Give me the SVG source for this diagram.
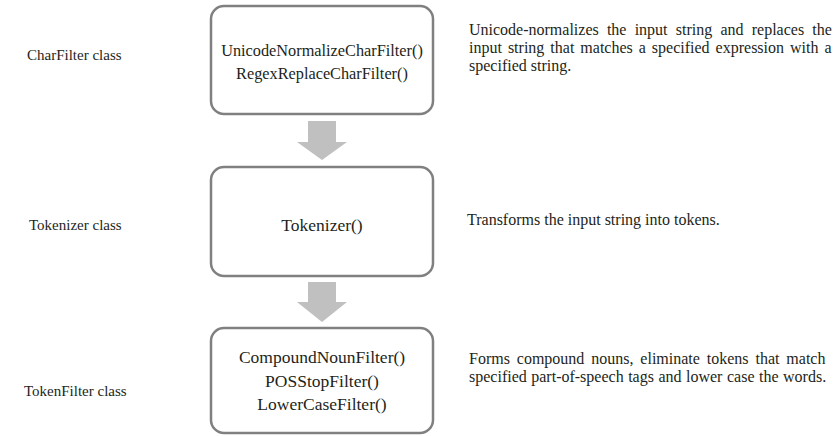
<svg xmlns="http://www.w3.org/2000/svg" width="838" height="436" viewBox="0 0 838 436">
<style>
.box{fill:#fff;stroke:#808080;stroke-width:2.5}
.arr{fill:#c0c0c0;stroke:none}
text{font-family:"Liberation Serif","Times New Roman",serif;fill:#231f20}
.bt{font-size:16.3px;text-anchor:middle}
.bt2{font-size:17.5px;text-anchor:middle}
.lab{font-size:15px}
.desc{font-size:16px}
</style>
<rect width="838" height="436" fill="#fff"/>
<g id="connectors">
<polygon class="arr" points="308,121 336,121 336,142 347,142 322,160 297,142 308,142"/>
<polygon class="arr" points="308,282 336,282 336,302 347,302 322,322 297,302 308,302"/>
</g>
<g id="charfilter">
<rect class="box" x="211" y="6" width="222" height="108" rx="13"/>
<text class="bt" x="322" y="56">UnicodeNormalizeCharFilter()</text>
<text class="bt" x="322" y="79">RegexReplaceCharFilter()</text>
</g>
<g id="tokenizer">
<rect class="box" x="211" y="167" width="222" height="109" rx="13"/>
<text class="bt2" x="322" y="231">Tokenizer()</text>
</g>
<g id="tokenfilter">
<rect class="box" x="211" y="328" width="222" height="105" rx="13"/>
<text class="bt2" x="322" y="363">CompoundNounFilter()</text>
<text class="bt2" x="322" y="387">POSStopFilter()</text>
<text class="bt2" x="322" y="410">LowerCaseFilter()</text>
</g>
<g id="labels">
<text class="lab" x="27" y="60">CharFilter class</text>
<text class="lab" x="29" y="230">Tokenizer class</text>
<text class="lab" x="24" y="396">TokenFilter class</text>
</g>
<g id="descriptions">
<text class="desc" x="469" y="35" word-spacing="4.2">Unicode-normalizes the input string and replaces the</text>
<text class="desc" x="469" y="53" word-spacing="2">input string that matches a specified expression with a</text>
<text class="desc" x="469" y="71">specified string.</text>
<text class="desc" x="467" y="225">Transforms the input string into tokens.</text>
<text class="desc" x="469" y="364" word-spacing="2.9">Forms compound nouns, eliminate tokens that match</text>
<text class="desc" x="469" y="382" word-spacing="0.5">specified part-of-speech tags and lower case the words.</text>
</g>
</svg>
